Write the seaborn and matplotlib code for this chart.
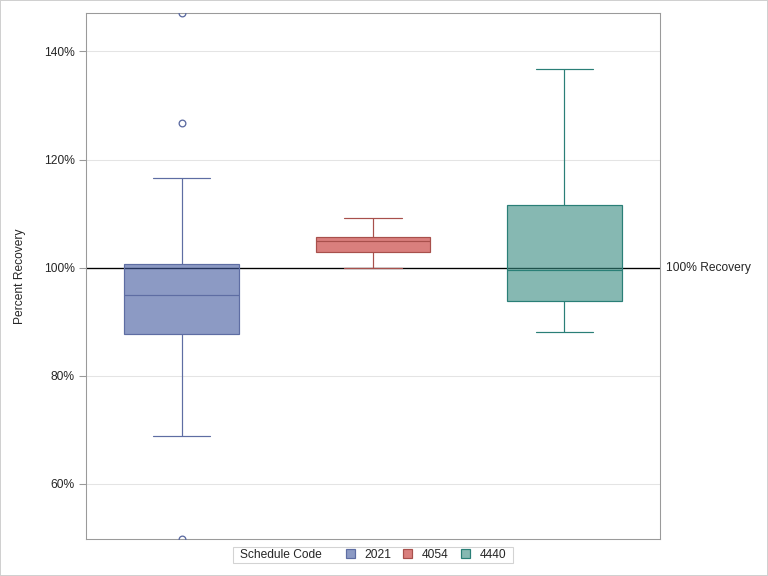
import numpy as np
import pandas as pd
import seaborn as sns
import matplotlib.pyplot as plt
from matplotlib.patches import Patch
from matplotlib.colors import to_rgba
from matplotlib.offsetbox import HPacker, DrawingArea
from matplotlib.transforms import blended_transform_factory

# Données
codes = ["2021", "4054", "4440"]
recovery_2021 = [49.8, 68.8, 82.0, 87.8, 90.5, 93.0, 94.9, 96.5, 98.8, 100.7, 116.5, 126.7, 147.1]
recovery_4054 = [100.0, 101.5, 102.8, 104.2, 105.0, 105.4, 105.7, 107.5, 109.1]
recovery_4440 = [88.0, 91.0, 93.9, 97.0, 99.6, 104.0, 111.5, 124.0, 136.7]
tick_values = [60, 80, 100, 120, 140]
tick_labels = ["60%", "80%", "100%", "120%", "140%"]

fill_colors = ["#3f579d", "#c02a26", "#35897f"]
edge_colors = ["#5e6da3", "#a8504c", "#2a7f77"]
fill_alpha = 0.6

df = pd.DataFrame({
    "code": ["2021"] * len(recovery_2021) + ["4054"] * len(recovery_4054) + ["4440"] * len(recovery_4440),
    "recovery": recovery_2021 + recovery_4054 + recovery_4440,
})

sns.set_style("white")
plt.rcParams["font.family"] = ["Liberation Sans", "DejaVu Sans"]
plt.rcParams["font.size"] = 9

fig = plt.figure(figsize=(8, 6), dpi=96)
fig.patch.set_edgecolor("#d0d0d0")
fig.patch.set_linewidth(1.5)
ax = fig.add_axes([86 / 768, 37 / 576, 574 / 768, 526 / 576])

sns.boxplot(data=df, x="code", y="recovery", hue="code", order=codes, hue_order=codes,
            palette=fill_colors, width=0.6, gap=0, whis=1.5, linewidth=0.9,
            flierprops=dict(marker="o", markersize=5, markerfacecolor="none"),
            legend=False, ax=ax)

for cont, fc, ec in zip(ax.containers, fill_colors, edge_colors):
    for b in cont.boxes:
        b.set_facecolor(to_rgba(fc, fill_alpha))
        b.set_edgecolor(ec)
        b.set_zorder(3)
    for l in list(cont.whiskers) + list(cont.caps) + list(cont.medians):
        l.set_color(ec)
        l.set_zorder(3)
    for f in cont.fliers:
        f.set_markeredgecolor(ec)
        f.set_markerfacecolor("none")
        f.set_zorder(3)

# Ligne de référence
ax.axhline(100, color="black", linewidth=1, zorder=2)
trans = blended_transform_factory(ax.transAxes, ax.transData)
ax.text(1.01, 100, "100% Recovery", transform=trans, va="center", ha="left", fontsize=9)

ax.set_ylim(49.8, 147.1)
ax.set_xlim(-0.5, 2.5)
ax.set_yticks(tick_values, tick_labels)
ax.set_xticks([])
ax.set_xlabel("")
ax.set_ylabel("Percent Recovery", labelpad=13)
ax.grid(axis="y", color="#e4e4e4", linewidth=0.8, zorder=0)
ax.set_axisbelow(True)
ax.tick_params(axis="y", left=True, length=5, width=0.8, color="#9a9a9a", pad=3.5)
for s in ax.spines.values():
    s.set_color("#9a9a9a")
    s.set_linewidth(0.8)

# Légende (titre à gauche des entrées)
handles = [Patch(facecolor=to_rgba(fc, fill_alpha), edgecolor=ec, linewidth=0.9)
           for fc, ec in zip(fill_colors, edge_colors)]
leg = fig.legend(handles, codes, ncol=3, title="Schedule Code", title_fontsize=9, loc="center",
                 bbox_to_anchor=(373 / 768, 1 - 555 / 576), frameon=True, fancybox=False,
                 handlelength=0.75, handleheight=0.75, handletextpad=0.8, columnspacing=1.0,
                 borderpad=0.15, fontsize=9)
box = leg.get_children()[0]
title_box = box.get_children()[0]
hpack = box.get_children()[1]
cols = hpack.get_children()
left = HPacker(children=[DrawingArea(4, 0), title_box], pad=0, sep=0, align="baseline")
right = HPacker(children=[cols[-1], DrawingArea(4, 0)], pad=0, sep=0, align="baseline")
box._children = [hpack]
hpack._children = [left, DrawingArea(0, 0)] + cols[:-1] + [right]
leg.get_frame().set_edgecolor("#c8c8c8")
leg.get_frame().set_linewidth(0.8)

fig.savefig("out.png", dpi=96)
